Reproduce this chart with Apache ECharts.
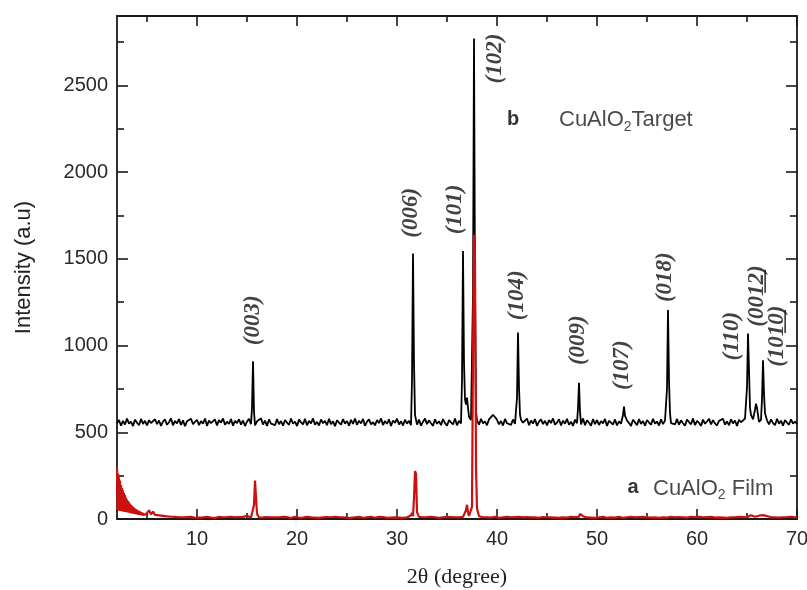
<!DOCTYPE html>
<html>
<head>
<meta charset="utf-8">
<script src="https://cdn.jsdelivr.net/npm/echarts@6/dist/echarts.min.js"></script>
<style>
  html, body { margin: 0; padding: 0; background: #fff; }
  #chart { width: 807px; height: 590px; }
</style>
</head>
<body>
<div id="chart"></div>
<script>
// XRD patterns of CuAlO2: sintered target (b) and deposited film (a)
// Baseline intensities are sampled every 0.2 degree starting at 2 degrees 2-theta.
const twoThetaStart = 2;
const twoThetaStep = 0.2;

const targetBaseline = [
  552,571,538,566,545,579,549,562,536,573,555,541,577,548,566,539,570,553,544,575,
  547,568,537,562,574,543,558,580,540,565,551,576,542,569,535,563,557,578,546,560,
  572,541,564,550,579,537,567,553,545,574,539,570,556,580,543,561,548,576,538,566,
  553,575,544,568,536,561,578,547,571,540,563,552,580,545,567,537,574,550,559,541,
  576,546,565,538,571,555,543,579,549,562,536,573,557,545,577,540,566,551,580,544,
  560,539,574,552,566,541,578,547,563,535,569,556,544,576,550,565,538,572,548,579,
  543,567,551,577,537,562,574,546,558,540,571,553,580,542,565,549,575,536,568,554,
  578,545,563,539,572,550,566,541,577,555,544,573,538,561,579,547,569,552,537,575,
  549,564,541,576,553,538,570,557,545,579,540,566,551,574,543,563,537,571,556,546,
  569,544,578,551,563,540,575,585,596,588,572,546,565,539,577,552,561,543,574,548,
  563,538,572,555,545,579,541,568,550,576,537,562,574,547,566,540,571,553,580,544,
  556,575,539,567,549,578,543,561,537,573,552,565,545,580,541,569,555,538,576,547,
  570,542,564,551,577,536,566,558,545,574,540,563,549,579,546,568,553,537,572,557,
  541,576,548,565,538,571,556,544,578,550,562,539,575,547,567,542,580,553,560,545,
  577,543,569,552,538,574,559,546,580,541,566,554,537,573,549,562,578,545,570,551,
  539,566,555,578,544,563,540,575,551,568,536,572,558,547,579,543,565,552,574,577,
  585,560,572,590,576,569,545,574,553,541,578,549,567,538,571,556,543,575,550,562,
  548
];

const filmBaseline = [
  290,60,240,75,190,62,150,55,122,46,96,40,76,35,62,30,50,27,42,24,
  33,21,27,18,24,15,20,13,17,12,15,10,14,9,13,11,8,12,10,7,
  11,8,13,9,7,12,10,8,11,6,9,12,8,10,7,11,9,13,8,10,
  7,11,9,12,8,18,10,9,11,7,10,8,12,9,7,11,8,10,13,9,
  8,10,7,12,9,11,8,6,10,13,9,7,11,8,10,12,7,9,11,8,
  10,7,12,9,8,11,6,10,9,13,8,11,7,10,12,8,9,7,11,10,
  8,12,9,7,11,10,8,13,9,7,10,12,8,11,9,7,10,8,12,9,
  11,8,10,7,12,9,14,22,16,10,9,12,8,10,7,11,9,13,8,10,
  9,7,11,10,8,12,9,11,14,10,13,9,16,12,22,20,18,24,30,26,
  28,16,13,10,12,9,11,8,10,13,9,7,11,10,8,12,9,10,7,11,
  9,12,8,10,7,11,13,9,8,10,12,7,9,11,8,10,13,9,11,8,
  10,7,12,9,11,8,10,13,9,11,10,12,20,16,11,9,12,8,10,7,
  11,9,8,12,10,7,13,9,11,8,10,12,9,7,11,10,8,13,9,10,
  8,11,9,12,7,10,13,8,10,9,11,7,12,9,10,8,11,13,9,10,
  7,11,9,10,12,8,10,13,16,11,9,12,8,10,7,11,9,12,10,8,
  11,9,12,8,10,7,13,9,11,10,8,12,9,11,14,10,16,12,18,13,
  15,19,14,22,13,17,12,10,14,9,11,8,12,10,9,11,8,13,10,9,
  10
];

// Finer low-angle film scan: every 0.05 degree from 2.00 to 5.00
const filmLowAngleStart = 2;
const filmLowAngleStep = 0.05;
const filmLowAngle = [
  300,52,262,48,240,55,222,46,196,50,
  178,44,165,47,150,41,138,45,122,39,
  112,42,104,36,96,40,88,34,80,37,
  76,31,70,34,64,29,60,31,56,26,
  52,29,49,24,46,27,43,22,40,25,
  37,20,35,23,32,19,30,21,28,17,
  26
];

// Reflection profiles [2theta, intensity] of the target
const targetPeaks = [
  [15.5, 640], [15.6, 910], [15.7, 620],
  [31.5, 800], [31.6, 1530], [31.7, 900], [31.8, 600],
  [36.5, 800], [36.6, 1545], [36.7, 900], [36.8, 690], [36.9, 660], [37.0, 700], [37.1, 640], [37.2, 590],
  [37.6, 1300], [37.7, 2770], [37.8, 1350], [37.9, 620],
  [39.6, 600],
  [42.0, 700], [42.1, 1075], [42.2, 760], [42.3, 600],
  [48.1, 640], [48.2, 785], [48.3, 620],
  [52.6, 600], [52.7, 648], [52.8, 595],
  [57.0, 750], [57.1, 1205], [57.2, 800], [57.3, 610],
  [65.0, 760], [65.1, 1070], [65.2, 860], [65.3, 640], [65.4, 600],
  [65.8, 630], [65.9, 665], [66.0, 640], [66.1, 600],
  [66.5, 690], [66.6, 915], [66.7, 720], [66.8, 610]
];

// Reflection profiles [2theta, intensity] of the film
const filmPeaks = [
  [15.7, 80], [15.8, 222], [15.9, 212], [16.0, 30],
  [31.5, 35], [31.7, 120], [31.8, 276], [31.9, 262], [32.0, 40],
  [36.9, 50], [37.0, 82], [37.1, 40],
  [37.5, 70], [37.6, 950], [37.7, 1640], [37.8, 1480], [37.9, 300], [38.0, 60],
  [48.3, 30], [48.4, 38], [48.5, 25],
  [65.4, 22], [66.3, 24]
];

// Miller indices [text, 2theta, intensity]
const hklLabels = [
  ['(003)', 15.6, 1146],
  ['(006)', 31.4, 1765],
  ['(101)', 35.8, 1785],
  ['(102)', 39.8, 2655],
  ['(104)', 42.0, 1290],
  ['(009)', 48.1, 1031],
  ['(107)', 52.5, 887],
  ['(018)', 56.8, 1394],
  ['(110)', 63.5, 1054],
  ['(00\u200B1\u03322\u0332)', 66.0, 1285],
  ['(10\u200B1\u03320\u0332)', 68.0, 1054]
];

const xLabelValues = [10, 20, 30, 40, 50, 60, 70];
const xMinorValues = [5, 15, 25, 35, 45, 55, 65];
const yLabelValues = [0, 500, 1000, 1500, 2000, 2500];
const yMinorValues = [250, 750, 1250, 1750, 2250, 2750];

function sampled(start, step, values) {
  return values.map((v, i) => [+(start + i * step).toFixed(2), v]);
}

function buildProfile(...parts) {
  const points = new Map();
  parts.forEach(list => list.forEach(([x, v]) => points.set(x.toFixed(2), [x, v])));
  return Array.from(points.values()).sort((a, b) => a[0] - b[0]);
}

const frameColor = '#1a1a1a';
const tickStyle = { color: frameColor, width: 1.6 };
const sansFont = 'Liberation Sans, Arial, sans-serif';
const serifFont = 'Liberation Serif, Times New Roman, serif';

function xAxisDef(position, values, len, withLine, withLabels) {
  return {
    type: 'value', min: 2, max: 70, position: position,
    axisLine: { show: withLine, onZero: false, lineStyle: { color: frameColor, width: 1.8 } },
    axisTick: { show: true, inside: true, length: len, customValues: values, lineStyle: tickStyle },
    axisLabel: withLabels ? {
      show: true, customValues: xLabelValues, fontSize: 20, color: '#2a2a2a',
      fontFamily: sansFont, margin: 10, formatter: v => String(v)
    } : { show: false },
    splitLine: { show: false }
  };
}

function yAxisDef(position, values, len, withLine, withLabels) {
  return {
    type: 'value', min: 0, max: 2900, position: position,
    axisLine: { show: withLine, onZero: false, lineStyle: { color: frameColor, width: 1.8 } },
    axisTick: { show: true, inside: true, length: len, customValues: values, lineStyle: tickStyle },
    axisLabel: withLabels ? {
      show: true, customValues: yLabelValues, fontSize: 20, color: '#2a2a2a',
      fontFamily: sansFont, margin: 9, formatter: v => String(v)
    } : { show: false },
    splitLine: { show: false }
  };
}

const xMain = xAxisDef('bottom', xLabelValues, 10, true, true);
xMain.name = '2\u03B8 (degree)';
xMain.nameLocation = 'middle';
xMain.nameGap = 47;
xMain.nameTextStyle = { fontFamily: serifFont, fontSize: 22, color: '#222' };

const yMain = yAxisDef('left', yLabelValues, 11, true, true);
yMain.name = 'Intensity (a.u)';
yMain.nameLocation = 'middle';
yMain.nameGap = 82;
yMain.nameTextStyle = { fontFamily: sansFont, fontSize: 22, color: '#222' };

const noteRich = {
  t: { fontSize: 22, fontFamily: sansFont, color: '#1a1a1a' },
  s: { fontSize: 14, fontFamily: sansFont, color: '#1a1a1a', padding: [14, 0, 0, 0] },
  k: { fontSize: 20, fontFamily: sansFont, color: '#000', fontWeight: 'bold' }
};

const targetProfile = buildProfile(
  sampled(twoThetaStart, twoThetaStep, targetBaseline), targetPeaks);
const filmProfile = buildProfile(
  sampled(twoThetaStart, twoThetaStep, filmBaseline),
  sampled(filmLowAngleStart, filmLowAngleStep, filmLowAngle), filmPeaks);

const option = {
  animation: false,
  backgroundColor: '#fff',
  grid: { left: 117, right: 10, top: 16, bottom: 71, containLabel: false, outerBoundsMode: 'none' },
  xAxis: [
    xMain,
    xAxisDef('bottom', xMinorValues, 6, false, false),
    xAxisDef('top', xLabelValues, 10, true, false),
    xAxisDef('top', xMinorValues, 6, false, false)
  ],
  yAxis: [
    yMain,
    yAxisDef('left', yMinorValues, 7, false, false),
    yAxisDef('right', yLabelValues, 11, true, false),
    yAxisDef('right', yMinorValues, 7, false, false)
  ],
  series: [
    {
      name: 'CuAlO2 Target', type: 'line', xAxisIndex: 0, yAxisIndex: 0,
      data: targetProfile, showSymbol: false, symbol: 'none',
      lineStyle: { color: '#000', width: 1.8 }, z: 2
    },
    {
      name: 'CuAlO2 Film', type: 'line', xAxisIndex: 0, yAxisIndex: 0,
      data: filmProfile, showSymbol: false, symbol: 'none',
      lineStyle: { color: '#cc1010', width: 2.2 }, z: 3
    },
    {
      name: 'hkl', type: 'scatter', xAxisIndex: 0, yAxisIndex: 0, silent: true,
      symbolSize: 1, itemStyle: { color: 'rgba(0,0,0,0)' }, z: 4,
      data: hklLabels.map(([t, x, y]) => ({ value: [x, y], name: t })),
      label: {
        show: true, position: 'inside', rotate: 90, formatter: p => p.name,
        fontFamily: serifFont, fontStyle: 'italic',
        fontWeight: 'bold', fontSize: 23, color: '#111'
      }
    },
    {
      name: 'notes', type: 'scatter', xAxisIndex: 0, yAxisIndex: 0, silent: true,
      symbolSize: 1, itemStyle: { color: 'rgba(0,0,0,0)' }, z: 4,
      data: [
        { value: [41.6, 2305], label: { formatter: '{k|b}', align: 'center' } },
        { value: [46.2, 2300], label: { formatter: '{t|CuAlO}{s|2}{t|Target}', align: 'left' } },
        { value: [53.6, 183], label: { formatter: '{k|a}', align: 'center' } },
        { value: [55.6, 176], label: { formatter: '{t|CuAlO}{s|2}{t| Film}', align: 'left' } }
      ],
      label: { show: true, position: 'inside', rich: noteRich }
    }
  ]
};

const chart = echarts.init(document.getElementById('chart'), null, { renderer: 'canvas' });
chart.setOption(option);
</script>
</body>
</html>
